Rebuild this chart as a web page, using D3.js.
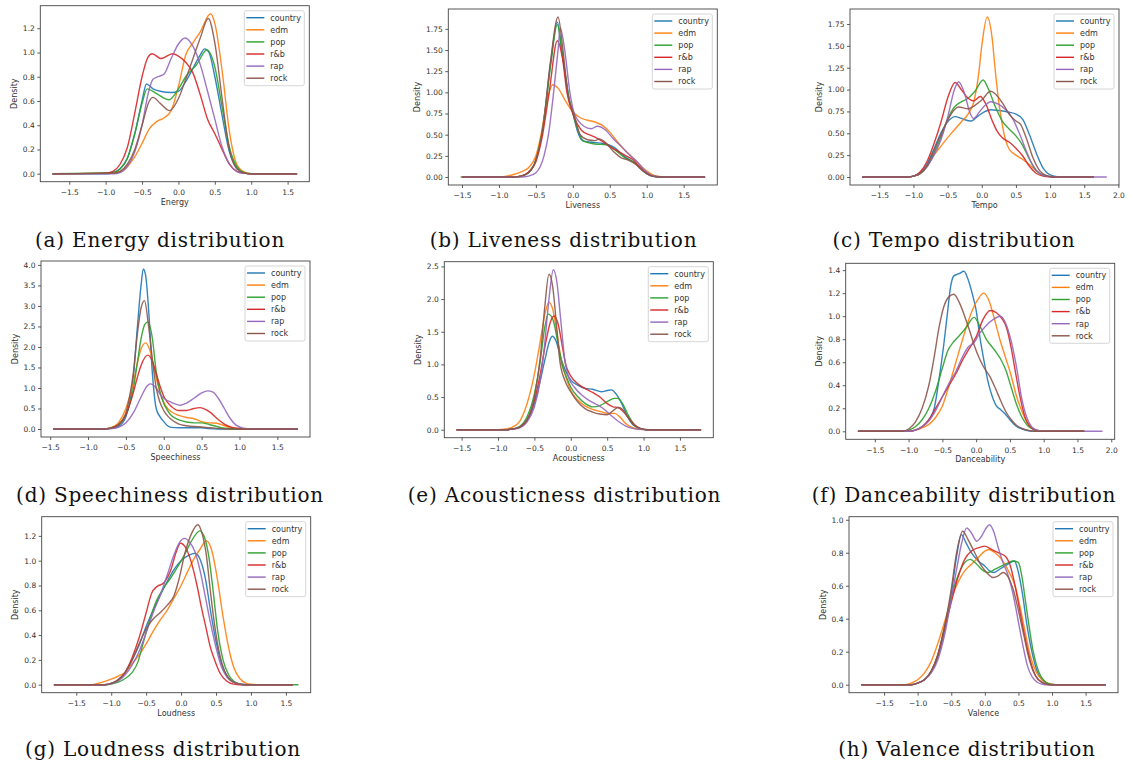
<!DOCTYPE html>
<html>
<head>
<meta charset="utf-8">
<script src="https://cdn.jsdelivr.net/npm/d3@7"></script>
<style>
  body { margin: 0; background: #fff; }
  svg { display: block; }
</style>
</head>
<body>
<div id="rootDiv"></div>
<script>
const genres = ["country", "edm", "pop", "r&b", "rap", "rock"];
const colors = ["#1f77b4", "#ff7f0e", "#2ca02c", "#d62728", "#9467bd", "#8c564b"];

// density curves as [value, density] points
const energy = {
  "country": [[-1.73,0],[-1.0,0],[-0.9,0.01],[-0.8,0.04],[-0.7,0.13],[-0.6,0.33],[-0.5,0.6],[-0.44,0.74],[-0.35,0.7],[-0.25,0.68],[-0.1,0.67],[0.0,0.68],[0.1,0.76],[0.2,0.87],[0.3,0.98],[0.36,1.03],[0.42,1.0],[0.5,0.8],[0.6,0.48],[0.7,0.18],[0.8,0.05],[0.9,0.01],[1.0,0],[1.63,0]],
  "edm": [[-1.73,0],[-0.9,0.005],[-0.8,0.02],[-0.7,0.06],[-0.6,0.14],[-0.5,0.25],[-0.4,0.37],[-0.3,0.43],[-0.2,0.46],[-0.1,0.52],[0.0,0.72],[0.1,0.98],[0.2,1.08],[0.3,1.17],[0.44,1.32],[0.5,1.24],[0.6,0.85],[0.7,0.35],[0.8,0.08],[0.9,0.015],[1.0,0],[1.63,0]],
  "pop": [[-1.73,0],[-0.9,0.01],[-0.8,0.04],[-0.7,0.13],[-0.6,0.33],[-0.5,0.58],[-0.43,0.7],[-0.3,0.66],[-0.13,0.61],[0.0,0.7],[0.1,0.8],[0.25,0.9],[0.39,1.02],[0.5,0.88],[0.6,0.55],[0.7,0.22],[0.8,0.06],[0.9,0.01],[1.0,0],[1.63,0]],
  "r&b": [[-1.73,0],[-1.0,0.005],[-0.9,0.02],[-0.8,0.08],[-0.7,0.22],[-0.6,0.5],[-0.5,0.8],[-0.42,0.96],[-0.36,0.99],[-0.24,0.95],[-0.08,0.99],[0.0,0.97],[0.1,0.92],[0.2,0.83],[0.3,0.65],[0.4,0.45],[0.5,0.33],[0.6,0.2],[0.7,0.08],[0.8,0.02],[0.9,0.005],[1.0,0],[1.63,0]],
  "rap": [[-1.73,0],[-0.9,0],[-0.8,0.01],[-0.7,0.06],[-0.6,0.18],[-0.5,0.4],[-0.42,0.65],[-0.35,0.78],[-0.28,0.8],[-0.2,0.82],[-0.1,0.95],[0.0,1.07],[0.09,1.12],[0.2,1.05],[0.3,0.9],[0.4,0.68],[0.5,0.45],[0.6,0.22],[0.7,0.08],[0.8,0.02],[0.9,0.003],[1.0,0],[1.63,0]],
  "rock": [[-1.73,0],[-0.9,0.005],[-0.8,0.02],[-0.7,0.08],[-0.6,0.2],[-0.5,0.4],[-0.4,0.6],[-0.35,0.63],[-0.25,0.58],[-0.12,0.52],[0.0,0.62],[0.1,0.78],[0.2,0.95],[0.3,1.12],[0.41,1.28],[0.5,1.08],[0.6,0.62],[0.7,0.2],[0.8,0.04],[0.9,0.005],[1.0,0],[1.63,0]]
};

const liveness = {
  "country": [[-1.5,0],[-0.8,0],[-0.7,0.01],[-0.6,0.05],[-0.5,0.2],[-0.4,0.62],[-0.3,1.35],[-0.21,1.83],[-0.15,1.5],[-0.1,1.2],[-0.05,0.92],[0.0,0.76],[0.06,0.55],[0.13,0.43],[0.25,0.41],[0.38,0.4],[0.56,0.35],[0.69,0.25],[0.83,0.17],[0.92,0.11],[1.0,0.04],[1.1,0.006],[1.2,0],[1.79,0]],
  "edm": [[-1.5,0],[-1.0,0],[-0.9,0.01],[-0.8,0.03],[-0.7,0.06],[-0.6,0.11],[-0.5,0.25],[-0.43,0.5],[-0.35,0.9],[-0.27,1.09],[-0.2,1.05],[-0.1,0.9],[0.0,0.77],[0.1,0.7],[0.2,0.67],[0.3,0.65],[0.4,0.61],[0.5,0.53],[0.6,0.42],[0.7,0.32],[0.8,0.24],[0.9,0.15],[1.0,0.07],[1.1,0.02],[1.2,0.004],[1.3,0],[1.79,0]],
  "pop": [[-1.52,0],[-0.8,0],[-0.7,0.01],[-0.6,0.05],[-0.5,0.2],[-0.4,0.6],[-0.3,1.32],[-0.21,1.8],[-0.15,1.5],[-0.1,1.2],[-0.05,0.92],[0.0,0.75],[0.07,0.55],[0.15,0.42],[0.3,0.39],[0.45,0.38],[0.6,0.3],[0.72,0.22],[0.82,0.18],[0.92,0.1],[1.02,0.03],[1.12,0.005],[1.2,0],[1.79,0]],
  "r&b": [[-1.5,0],[-0.8,0],[-0.7,0.01],[-0.6,0.06],[-0.5,0.18],[-0.42,0.45],[-0.32,1.0],[-0.21,1.61],[-0.14,1.4],[-0.08,1.0],[0.0,0.75],[0.12,0.55],[0.22,0.5],[0.3,0.47],[0.4,0.42],[0.52,0.35],[0.62,0.3],[0.72,0.25],[0.82,0.2],[0.92,0.1],[1.02,0.03],[1.12,0.005],[1.2,0],[1.79,0]],
  "rap": [[-1.5,0],[-0.7,0],[-0.6,0.01],[-0.5,0.05],[-0.39,0.25],[-0.33,0.5],[-0.26,1.0],[-0.2,1.5],[-0.17,1.76],[-0.11,1.5],[-0.04,1.0],[0.02,0.75],[0.15,0.6],[0.25,0.57],[0.33,0.6],[0.45,0.55],[0.55,0.45],[0.67,0.35],[0.78,0.25],[0.87,0.18],[0.97,0.08],[1.07,0.02],[1.17,0.003],[1.25,0],[1.79,0]],
  "rock": [[-1.5,0],[-0.8,0],[-0.7,0.01],[-0.6,0.05],[-0.5,0.2],[-0.4,0.62],[-0.3,1.38],[-0.2,1.89],[-0.14,1.55],[-0.07,1.0],[0.02,0.72],[0.1,0.5],[0.2,0.44],[0.3,0.43],[0.36,0.45],[0.45,0.4],[0.55,0.3],[0.65,0.23],[0.75,0.2],[0.85,0.15],[0.95,0.07],[1.05,0.02],[1.15,0.003],[1.25,0],[1.79,0]]
};

const tempo = {
  "country": [[-1.75,0],[-1.1,0],[-1.0,0.01],[-0.9,0.05],[-0.8,0.15],[-0.7,0.32],[-0.6,0.5],[-0.5,0.63],[-0.39,0.69],[-0.3,0.67],[-0.16,0.64],[-0.05,0.7],[0.05,0.75],[0.13,0.77],[0.25,0.76],[0.4,0.74],[0.5,0.72],[0.6,0.66],[0.7,0.48],[0.8,0.27],[0.9,0.1],[1.0,0.025],[1.1,0.004],[1.2,0],[1.64,0]],
  "edm": [[-1.75,0],[-1.1,0],[-1.0,0.01],[-0.9,0.04],[-0.8,0.13],[-0.7,0.25],[-0.6,0.35],[-0.5,0.45],[-0.4,0.54],[-0.3,0.63],[-0.2,0.72],[-0.12,0.85],[-0.05,1.15],[0.0,1.5],[0.08,1.83],[0.15,1.6],[0.2,1.2],[0.25,0.85],[0.3,0.6],[0.35,0.42],[0.4,0.32],[0.5,0.25],[0.6,0.2],[0.7,0.14],[0.8,0.07],[0.9,0.02],[1.0,0.005],[1.1,0],[1.64,0]],
  "pop": [[-1.75,0],[-1.1,0],[-1.0,0.01],[-0.9,0.04],[-0.8,0.12],[-0.7,0.27],[-0.6,0.45],[-0.5,0.66],[-0.4,0.8],[-0.3,0.86],[-0.2,0.9],[-0.1,0.98],[0.02,1.11],[0.1,1.0],[0.2,0.8],[0.3,0.64],[0.4,0.55],[0.5,0.47],[0.6,0.36],[0.7,0.2],[0.8,0.07],[0.9,0.02],[1.0,0.004],[1.1,0],[1.64,0]],
  "r&b": [[-1.75,0],[-1.1,0],[-1.0,0.01],[-0.9,0.06],[-0.8,0.18],[-0.7,0.38],[-0.6,0.62],[-0.5,0.9],[-0.39,1.08],[-0.3,1.0],[-0.2,0.9],[-0.12,0.87],[-0.02,0.92],[0.05,0.85],[0.15,0.65],[0.22,0.53],[0.3,0.45],[0.4,0.4],[0.5,0.33],[0.6,0.24],[0.7,0.12],[0.8,0.04],[0.9,0.01],[1.0,0.002],[1.1,0],[1.64,0]],
  "rap": [[-1.75,0],[-1.1,0],[-1.0,0.01],[-0.9,0.04],[-0.8,0.12],[-0.7,0.25],[-0.6,0.42],[-0.5,0.68],[-0.4,1.0],[-0.34,1.09],[-0.25,0.95],[-0.18,0.75],[-0.12,0.67],[-0.03,0.75],[0.05,0.82],[0.13,0.86],[0.25,0.83],[0.35,0.77],[0.45,0.67],[0.55,0.5],[0.65,0.3],[0.75,0.13],[0.85,0.04],[0.95,0.01],[1.05,0],[1.83,0]],
  "rock": [[-1.75,0],[-1.1,0],[-1.0,0.01],[-0.9,0.04],[-0.8,0.13],[-0.7,0.3],[-0.6,0.48],[-0.5,0.65],[-0.4,0.77],[-0.34,0.8],[-0.2,0.78],[-0.1,0.82],[0.0,0.88],[0.13,0.98],[0.2,0.95],[0.3,0.85],[0.4,0.72],[0.5,0.64],[0.57,0.6],[0.65,0.45],[0.75,0.22],[0.85,0.07],[0.95,0.015],[1.05,0],[1.64,0]]
};

const speechiness = {
  "country": [[-1.46,0],[-0.8,0],[-0.7,0.01],[-0.6,0.06],[-0.5,0.3],[-0.45,0.65],[-0.4,1.3],[-0.35,2.45],[-0.3,3.5],[-0.27,3.9],[-0.24,3.75],[-0.2,2.9],[-0.15,1.35],[-0.1,0.5],[-0.05,0.3],[0.0,0.18],[0.05,0.08],[0.1,0.04],[0.2,0.03],[0.5,0.03],[0.6,0.01],[0.7,0],[1.77,0]],
  "edm": [[-1.46,0],[-0.8,0],[-0.7,0.03],[-0.6,0.15],[-0.5,0.5],[-0.45,0.8],[-0.4,1.15],[-0.35,1.6],[-0.3,1.95],[-0.24,2.1],[-0.18,1.9],[-0.12,1.4],[-0.05,0.9],[0.0,0.65],[0.05,0.5],[0.1,0.42],[0.2,0.33],[0.3,0.28],[0.4,0.25],[0.5,0.18],[0.6,0.15],[0.7,0.14],[0.8,0.08],[0.9,0.03],[1.0,0.005],[1.1,0],[1.77,0]],
  "pop": [[-1.46,0],[-0.8,0],[-0.7,0.02],[-0.6,0.1],[-0.5,0.35],[-0.45,0.6],[-0.4,1.0],[-0.35,1.6],[-0.3,2.2],[-0.25,2.55],[-0.21,2.61],[-0.15,2.2],[-0.1,1.4],[-0.05,0.9],[0.0,0.62],[0.05,0.45],[0.1,0.33],[0.2,0.22],[0.3,0.17],[0.4,0.15],[0.5,0.15],[0.6,0.11],[0.7,0.06],[0.8,0.02],[0.9,0.005],[1.0,0],[1.77,0]],
  "r&b": [[-1.46,0],[-0.8,0],[-0.7,0.02],[-0.6,0.1],[-0.5,0.35],[-0.45,0.6],[-0.4,0.9],[-0.35,1.25],[-0.3,1.55],[-0.21,1.8],[-0.15,1.65],[-0.1,1.35],[-0.05,1.05],[0.0,0.8],[0.05,0.65],[0.1,0.55],[0.2,0.45],[0.3,0.45],[0.4,0.5],[0.48,0.52],[0.55,0.48],[0.62,0.4],[0.7,0.26],[0.8,0.12],[0.9,0.04],[1.0,0.01],[1.1,0],[1.77,0]],
  "rap": [[-1.46,0],[-0.8,0],[-0.7,0.01],[-0.6,0.04],[-0.5,0.15],[-0.4,0.4],[-0.3,0.78],[-0.22,1.05],[-0.18,1.1],[-0.1,1.0],[-0.05,0.85],[0.0,0.75],[0.1,0.65],[0.22,0.58],[0.3,0.63],[0.4,0.75],[0.5,0.88],[0.58,0.93],[0.65,0.9],[0.72,0.75],[0.8,0.5],[0.88,0.25],[0.95,0.1],[1.05,0.02],[1.15,0],[1.77,0]],
  "rock": [[-1.46,0],[-0.8,0],[-0.7,0.02],[-0.6,0.1],[-0.5,0.4],[-0.45,0.8],[-0.4,1.4],[-0.35,2.3],[-0.3,2.95],[-0.255,3.13],[-0.2,2.5],[-0.15,1.7],[-0.1,1.0],[-0.05,0.65],[0.0,0.45],[0.05,0.32],[0.1,0.23],[0.2,0.12],[0.3,0.08],[0.4,0.06],[0.5,0.05],[0.6,0.03],[0.7,0.015],[0.8,0.005],[0.9,0],[1.77,0]]
};

const acousticness = {
  "country": [[-1.57,0],[-0.9,0],[-0.8,0.01],[-0.7,0.04],[-0.6,0.14],[-0.5,0.4],[-0.42,0.75],[-0.35,1.1],[-0.3,1.33],[-0.255,1.43],[-0.2,1.35],[-0.15,1.15],[-0.1,0.98],[-0.05,0.85],[0.0,0.76],[0.1,0.68],[0.2,0.63],[0.3,0.62],[0.42,0.58],[0.5,0.6],[0.56,0.61],[0.62,0.55],[0.7,0.4],[0.78,0.2],[0.85,0.08],[0.95,0.02],[1.05,0],[1.79,0]],
  "edm": [[-1.57,0],[-1.0,0],[-0.9,0.01],[-0.8,0.04],[-0.7,0.13],[-0.6,0.4],[-0.5,0.85],[-0.42,1.35],[-0.35,1.8],[-0.3,1.95],[-0.25,1.85],[-0.2,1.55],[-0.13,1.05],[-0.05,0.75],[0.0,0.6],[0.1,0.45],[0.2,0.36],[0.3,0.31],[0.4,0.28],[0.5,0.25],[0.6,0.25],[0.67,0.2],[0.75,0.1],[0.85,0.03],[0.95,0.005],[1.05,0],[1.79,0]],
  "pop": [[-1.57,0],[-0.9,0],[-0.8,0.01],[-0.7,0.05],[-0.6,0.2],[-0.5,0.55],[-0.42,1.05],[-0.36,1.55],[-0.31,1.77],[-0.25,1.7],[-0.18,1.35],[-0.12,1.0],[-0.05,0.78],[0.0,0.65],[0.1,0.5],[0.2,0.4],[0.3,0.35],[0.4,0.37],[0.5,0.43],[0.6,0.48],[0.65,0.48],[0.72,0.38],[0.8,0.2],[0.88,0.07],[0.95,0.02],[1.05,0],[1.79,0]],
  "r&b": [[-1.57,0],[-0.9,0],[-0.8,0.01],[-0.7,0.04],[-0.6,0.15],[-0.5,0.45],[-0.42,0.85],[-0.35,1.3],[-0.28,1.65],[-0.23,1.74],[-0.17,1.6],[-0.12,1.3],[-0.07,1.0],[0.0,0.82],[0.1,0.7],[0.2,0.63],[0.3,0.57],[0.4,0.5],[0.5,0.4],[0.58,0.35],[0.65,0.34],[0.72,0.28],[0.8,0.17],[0.88,0.07],[0.95,0.02],[1.05,0],[1.79,0]],
  "rap": [[-1.57,0],[-0.9,0],[-0.8,0.01],[-0.7,0.03],[-0.6,0.12],[-0.5,0.35],[-0.42,0.75],[-0.36,1.3],[-0.3,2.0],[-0.24,2.45],[-0.19,2.25],[-0.14,1.7],[-0.08,1.05],[-0.03,0.8],[0.05,0.65],[0.15,0.53],[0.25,0.45],[0.35,0.39],[0.45,0.32],[0.55,0.22],[0.65,0.13],[0.75,0.06],[0.85,0.02],[0.95,0.005],[1.05,0],[1.79,0]],
  "rock": [[-1.57,0],[-0.9,0],[-0.8,0.01],[-0.7,0.04],[-0.6,0.15],[-0.5,0.5],[-0.42,1.1],[-0.36,1.85],[-0.3,2.38],[-0.25,2.2],[-0.2,1.65],[-0.15,1.05],[-0.08,0.75],[0.0,0.58],[0.1,0.42],[0.2,0.32],[0.3,0.27],[0.4,0.24],[0.5,0.23],[0.57,0.28],[0.65,0.34],[0.7,0.32],[0.78,0.2],[0.86,0.08],[0.95,0.02],[1.05,0],[1.79,0]]
};

const danceability = {
  "country": [[-1.75,0],[-1.0,0],[-0.9,0.01],[-0.8,0.04],[-0.7,0.1],[-0.62,0.2],[-0.55,0.45],[-0.48,0.75],[-0.43,1.0],[-0.38,1.25],[-0.33,1.35],[-0.25,1.37],[-0.18,1.39],[-0.12,1.32],[-0.06,1.2],[0.0,1.05],[0.06,0.8],[0.12,0.6],[0.18,0.42],[0.24,0.3],[0.3,0.22],[0.36,0.19],[0.43,0.15],[0.5,0.1],[0.58,0.05],[0.68,0.02],[0.8,0.003],[0.9,0],[1.6,0]],
  "edm": [[-1.75,0],[-1.0,0],[-0.9,0.01],[-0.8,0.03],[-0.7,0.06],[-0.6,0.12],[-0.5,0.22],[-0.4,0.4],[-0.3,0.6],[-0.2,0.8],[-0.12,0.95],[-0.05,1.06],[0.03,1.15],[0.11,1.2],[0.2,1.12],[0.26,1.0],[0.35,0.8],[0.43,0.65],[0.51,0.5],[0.6,0.3],[0.66,0.2],[0.75,0.08],[0.85,0.02],[0.95,0.004],[1.05,0],[1.6,0]],
  "pop": [[-1.75,0],[-1.1,0],[-1.0,0.01],[-0.9,0.04],[-0.8,0.1],[-0.7,0.2],[-0.6,0.35],[-0.5,0.55],[-0.42,0.7],[-0.33,0.78],[-0.25,0.83],[-0.15,0.9],[-0.03,0.99],[0.05,0.92],[0.15,0.8],[0.28,0.7],[0.36,0.63],[0.44,0.53],[0.52,0.38],[0.6,0.23],[0.68,0.12],[0.76,0.05],[0.85,0.015],[0.95,0],[1.6,0]],
  "r&b": [[-1.75,0],[-1.0,0],[-0.9,0.01],[-0.8,0.04],[-0.7,0.1],[-0.6,0.2],[-0.5,0.3],[-0.4,0.4],[-0.3,0.5],[-0.2,0.62],[-0.1,0.72],[0.0,0.82],[0.1,0.97],[0.21,1.05],[0.3,1.03],[0.38,0.98],[0.45,0.9],[0.52,0.72],[0.58,0.52],[0.65,0.3],[0.72,0.13],[0.8,0.04],[0.9,0.008],[1.0,0],[1.6,0]],
  "rap": [[-1.75,0],[-1.0,0],[-0.9,0.01],[-0.8,0.04],[-0.7,0.09],[-0.6,0.18],[-0.5,0.3],[-0.4,0.42],[-0.3,0.52],[-0.2,0.65],[-0.12,0.73],[-0.03,0.77],[0.05,0.85],[0.15,0.92],[0.25,0.97],[0.36,1.0],[0.45,0.92],[0.52,0.78],[0.6,0.55],[0.67,0.3],[0.75,0.12],[0.82,0.04],[0.9,0.01],[1.0,0],[1.87,0]],
  "rock": [[-1.75,0],[-1.1,0],[-1.0,0.02],[-0.9,0.08],[-0.8,0.2],[-0.7,0.4],[-0.62,0.65],[-0.55,0.9],[-0.48,1.08],[-0.4,1.17],[-0.33,1.19],[-0.25,1.12],[-0.17,1.0],[-0.1,0.88],[-0.03,0.75],[0.05,0.63],[0.12,0.55],[0.2,0.48],[0.28,0.38],[0.36,0.27],[0.44,0.17],[0.52,0.1],[0.6,0.05],[0.7,0.02],[0.8,0.005],[0.9,0],[1.6,0]]
};

const loudness = {
  "country": [[-1.82,0],[-1.1,0],[-1.0,0.01],[-0.9,0.04],[-0.8,0.1],[-0.7,0.2],[-0.6,0.32],[-0.5,0.47],[-0.4,0.6],[-0.3,0.72],[-0.2,0.83],[-0.1,0.93],[0.0,1.0],[0.1,1.04],[0.2,1.06],[0.28,1.0],[0.35,0.85],[0.42,0.6],[0.5,0.35],[0.58,0.17],[0.66,0.07],[0.75,0.02],[0.85,0.004],[0.95,0],[1.6,0]],
  "edm": [[-1.82,0],[-1.3,0],[-1.2,0.01],[-1.1,0.025],[-1.0,0.045],[-0.9,0.07],[-0.8,0.1],[-0.7,0.17],[-0.6,0.24],[-0.5,0.33],[-0.4,0.43],[-0.3,0.52],[-0.2,0.6],[-0.1,0.7],[0.0,0.8],[0.1,0.92],[0.2,1.03],[0.28,1.1],[0.36,1.16],[0.44,1.08],[0.52,0.85],[0.6,0.55],[0.68,0.3],[0.76,0.13],[0.84,0.05],[0.92,0.015],[1.0,0.004],[1.1,0],[1.6,0]],
  "pop": [[-1.82,0],[-1.1,0],[-1.0,0.005],[-0.9,0.02],[-0.8,0.05],[-0.7,0.1],[-0.62,0.18],[-0.55,0.32],[-0.45,0.52],[-0.35,0.68],[-0.25,0.78],[-0.15,0.86],[-0.05,0.95],[0.05,1.05],[0.15,1.16],[0.27,1.24],[0.34,1.18],[0.4,1.02],[0.46,0.75],[0.52,0.45],[0.6,0.2],[0.68,0.08],[0.76,0.025],[0.85,0.005],[0.95,0],[1.68,0]],
  "r&b": [[-1.82,0],[-1.1,0],[-1.0,0.01],[-0.9,0.04],[-0.8,0.1],[-0.7,0.22],[-0.6,0.38],[-0.5,0.58],[-0.42,0.74],[-0.35,0.79],[-0.25,0.82],[-0.15,0.92],[-0.07,1.07],[-0.01,1.14],[0.07,1.1],[0.15,0.98],[0.22,0.82],[0.3,0.6],[0.36,0.45],[0.42,0.3],[0.48,0.2],[0.56,0.09],[0.65,0.03],[0.75,0.005],[0.85,0],[1.6,0]],
  "rap": [[-1.82,0],[-1.1,0],[-1.0,0.01],[-0.9,0.03],[-0.8,0.08],[-0.7,0.16],[-0.6,0.27],[-0.5,0.42],[-0.4,0.58],[-0.3,0.72],[-0.2,0.88],[-0.1,1.05],[-0.02,1.15],[0.05,1.18],[0.12,1.15],[0.2,1.07],[0.28,0.9],[0.35,0.7],[0.42,0.5],[0.5,0.3],[0.58,0.14],[0.66,0.06],[0.75,0.02],[0.85,0.004],[0.95,0],[1.6,0]],
  "rock": [[-1.82,0],[-1.1,0],[-1.0,0.01],[-0.9,0.04],[-0.8,0.1],[-0.7,0.2],[-0.6,0.33],[-0.5,0.45],[-0.4,0.53],[-0.3,0.58],[-0.2,0.64],[-0.1,0.72],[-0.03,0.85],[0.05,1.05],[0.15,1.22],[0.24,1.29],[0.3,1.22],[0.36,1.05],[0.42,0.75],[0.48,0.48],[0.55,0.25],[0.62,0.11],[0.7,0.04],[0.8,0.01],[0.9,0],[1.6,0]]
};

const valence = {
  "country": [[-1.84,0],[-1.1,0],[-1.0,0.01],[-0.9,0.03],[-0.8,0.08],[-0.7,0.17],[-0.6,0.33],[-0.5,0.55],[-0.42,0.78],[-0.35,0.91],[-0.28,0.86],[-0.2,0.8],[-0.1,0.75],[0.0,0.72],[0.07,0.69],[0.14,0.68],[0.22,0.7],[0.3,0.72],[0.38,0.74],[0.44,0.75],[0.5,0.68],[0.56,0.55],[0.62,0.38],[0.7,0.2],[0.78,0.08],[0.86,0.025],[0.95,0.005],[1.05,0],[1.8,0]],
  "edm": [[-1.84,0],[-1.2,0],[-1.1,0.01],[-1.0,0.03],[-0.9,0.07],[-0.8,0.14],[-0.7,0.25],[-0.6,0.38],[-0.5,0.52],[-0.4,0.62],[-0.3,0.69],[-0.2,0.73],[-0.1,0.77],[0.0,0.81],[0.06,0.82],[0.15,0.8],[0.25,0.76],[0.35,0.69],[0.45,0.6],[0.52,0.48],[0.6,0.32],[0.68,0.17],[0.76,0.08],[0.85,0.03],[0.95,0.008],[1.05,0],[1.8,0]],
  "pop": [[-1.84,0],[-1.1,0],[-1.0,0.01],[-0.9,0.03],[-0.8,0.08],[-0.7,0.18],[-0.6,0.35],[-0.5,0.53],[-0.4,0.66],[-0.3,0.74],[-0.22,0.76],[-0.12,0.73],[-0.02,0.69],[0.05,0.68],[0.15,0.7],[0.3,0.73],[0.42,0.75],[0.5,0.74],[0.55,0.66],[0.6,0.52],[0.66,0.35],[0.72,0.2],[0.8,0.08],[0.88,0.025],[0.96,0.005],[1.05,0],[1.8,0]],
  "r&b": [[-1.84,0],[-1.1,0],[-1.0,0.01],[-0.9,0.03],[-0.8,0.08],[-0.7,0.18],[-0.6,0.34],[-0.5,0.5],[-0.4,0.65],[-0.3,0.76],[-0.2,0.81],[-0.1,0.83],[0.0,0.84],[0.1,0.82],[0.2,0.8],[0.3,0.78],[0.38,0.72],[0.45,0.6],[0.52,0.45],[0.6,0.28],[0.68,0.14],[0.76,0.05],[0.85,0.015],[0.95,0],[1.8,0]],
  "rap": [[-1.84,0],[-1.1,0],[-1.0,0.01],[-0.9,0.03],[-0.8,0.07],[-0.7,0.15],[-0.6,0.3],[-0.5,0.52],[-0.42,0.7],[-0.35,0.85],[-0.27,0.95],[-0.2,0.92],[-0.12,0.87],[-0.05,0.9],[0.02,0.95],[0.07,0.97],[0.13,0.93],[0.2,0.83],[0.27,0.74],[0.35,0.66],[0.43,0.53],[0.5,0.38],[0.57,0.23],[0.63,0.12],[0.7,0.05],[0.78,0.015],[0.86,0.003],[0.95,0],[1.8,0]],
  "rock": [[-1.84,0],[-1.1,0],[-1.0,0.01],[-0.9,0.03],[-0.8,0.08],[-0.7,0.18],[-0.6,0.35],[-0.5,0.58],[-0.42,0.8],[-0.33,0.93],[-0.25,0.88],[-0.15,0.8],[-0.05,0.72],[0.05,0.67],[0.12,0.65],[0.2,0.66],[0.27,0.68],[0.35,0.65],[0.42,0.58],[0.5,0.45],[0.58,0.3],[0.65,0.17],[0.72,0.08],[0.8,0.03],[0.9,0.005],[1.0,0],[1.8,0]]
};

// tick labels
const xTicksA = [-1.5, -1.0, -0.5, 0.0, 0.5, 1.0, 1.5];
const xTicksB = [-1.5, -1.0, -0.5, 0.0, 0.5, 1.0, 1.5, 2.0];
const yTicksEnergy = [0, 0.2, 0.4, 0.6, 0.8, 1.0, 1.2];
const yTicksQuarter = [0, 0.25, 0.5, 0.75, 1.0, 1.25, 1.5, 1.75];
const yTicksSpeech = [0, 0.5, 1.0, 1.5, 2.0, 2.5, 3.0, 3.5, 4.0];
const yTicksAcoustic = [0, 0.5, 1.0, 1.5, 2.0, 2.5];
const yTicksDance = [0, 0.2, 0.4, 0.6, 0.8, 1.0, 1.2, 1.4];
const yTicksValence = [0, 0.2, 0.4, 0.6, 0.8, 1.0];

const panels = [
  { label: "Energy", data: energy, xt: xTicksA, yt: yTicksEnergy, fmt: ".1f", left: 40.3, top: 5.7, caption: "(a) Energy distribution", cx: 160, cy: 246.7 },
  { label: "Liveness", data: liveness, xt: xTicksA, yt: yTicksQuarter, fmt: ".2f", left: 448.3, top: 9, caption: "(b) Liveness distribution", cx: 563.5, cy: 246.7 },
  { label: "Tempo", data: tempo, xt: xTicksB, yt: yTicksQuarter, fmt: ".2f", left: 850, top: 9, caption: "(c) Tempo distribution", cx: 954, cy: 246.7 },
  { label: "Speechiness", data: speechiness, xt: xTicksA, yt: yTicksSpeech, fmt: ".1f", left: 41, top: 261, caption: "(d) Speechiness distribution", cx: 170, cy: 502 },
  { label: "Acousticness", data: acousticness, xt: xTicksA, yt: yTicksAcoustic, fmt: ".1f", left: 444.3, top: 261.7, caption: "(e) Acousticness distribution", cx: 564.5, cy: 502 },
  { label: "Danceability", data: danceability, xt: xTicksB, yt: yTicksDance, fmt: ".1f", left: 845.7, top: 263.3, caption: "(f) Danceability distribution", cx: 964, cy: 502 },
  { label: "Loudness", data: loudness, xt: xTicksA, yt: yTicksEnergy, fmt: ".1f", left: 41.7, top: 516.7, caption: "(g) Loudness distribution", cx: 163, cy: 756 },
  { label: "Valence", data: valence, xt: xTicksA, yt: yTicksValence, fmt: ".1f", left: 849, top: 516.7, caption: "(h) Valence distribution", cx: 967, cy: 756 }
];

const W = 269, H = 176;
const textColor = "#333";
const font = "DejaVu Sans, sans-serif";

const svg = d3.select("#rootDiv").append("svg")
  .attr("width", 1130)
  .attr("height", 768)
  .style("font-family", font);

function drawPanel(p) {
  const all = genres.flatMap(g => p.data[g]);
  const [x0, x1] = d3.extent(all, d => d[0]);
  const ymax = d3.max(all, d => d[1]);
  // matplotlib style 5% margins
  const padX = (x1 - x0) * 0.05, padY = ymax * 0.05;
  const x = d3.scaleLinear().domain([x0 - padX, x1 + padX]).range([0, W]);
  const y = d3.scaleLinear().domain([-padY, ymax + padY]).range([H, 0]);

  const g = svg.append("g").attr("transform", `translate(${p.left},${p.top})`);

  const line = d3.line()
    .x(d => x(d[0]))
    .y(d => y(d[1]))
    .curve(d3.curveMonotoneX);

  g.selectAll("path.kde")
    .data(genres)
    .enter()
    .append("path")
    .attr("class", "kde")
    .attr("d", k => line(p.data[k]))
    .attr("fill", "none")
    .attr("stroke", (k, i) => colors[i])
    .attr("stroke-width", 1.4)
    .attr("stroke-opacity", 0.9);

  const xAxis = g.append("g")
    .attr("transform", `translate(0,${H})`)
    .call(d3.axisBottom(x).tickValues(p.xt).tickFormat(d3.format(".1f")).tickSize(3).tickPadding(5).tickSizeOuter(0));
  const yAxis = g.append("g")
    .call(d3.axisLeft(y).tickValues(p.yt).tickFormat(d3.format(p.fmt)).tickSize(3).tickPadding(2.5).tickSizeOuter(0));

  for (const axis of [xAxis, yAxis]) {
    axis.select(".domain").remove();
    axis.selectAll("line").attr("stroke", textColor).attr("stroke-width", 0.8);
    axis.selectAll("text").attr("fill", textColor).style("font-size", "7.5px").style("font-family", font);
  }

  // frame
  g.append("rect")
    .attr("width", W)
    .attr("height", H)
    .attr("fill", "none")
    .attr("stroke", "#444")
    .attr("stroke-width", 0.9);

  g.append("text")
    .attr("x", W / 2)
    .attr("y", H + 23)
    .attr("text-anchor", "middle")
    .attr("fill", textColor)
    .style("font-size", "8px")
    .text(p.label);

  const bb = yAxis.node().getBBox();
  g.append("text")
    .attr("transform", `translate(${bb.x - 8.6},${H / 2}) rotate(-90)`)
    .attr("dy", "0.35em")
    .attr("text-anchor", "middle")
    .attr("fill", textColor)
    .style("font-size", "8px")
    .text("Density");

  // legend
  const legW = 60, legH = 75;
  const legend = g.append("g").attr("transform", `translate(${W - 5 - legW},5)`);
  legend.append("rect")
    .attr("width", legW)
    .attr("height", legH)
    .attr("rx", 2)
    .attr("fill", "#fff")
    .attr("fill-opacity", 0.8)
    .attr("stroke", "#ccc")
    .attr("stroke-width", 0.8);
  const rows = legend.selectAll("g.row")
    .data(genres)
    .enter()
    .append("g")
    .attr("class", "row")
    .attr("transform", (d, i) => `translate(0,${7 + i * 12.1})`);
  rows.append("line")
    .attr("x1", 2).attr("x2", 20)
    .attr("stroke", (d, i) => colors[i])
    .attr("stroke-width", 1.4);
  rows.append("text")
    .attr("x", 26)
    .attr("dy", "0.35em")
    .attr("fill", textColor)
    .style("font-size", "8px")
    .text(d => d);

  svg.append("text")
    .attr("x", p.cx)
    .attr("y", p.cy)
    .attr("text-anchor", "middle")
    .attr("fill", "#111")
    .style("font-family", "DejaVu Serif, serif")
    .style("font-size", "20px")
    .style("letter-spacing", "0.8px")
    .text(p.caption);
}

panels.forEach(drawPanel);
</script>
</body>
</html>
